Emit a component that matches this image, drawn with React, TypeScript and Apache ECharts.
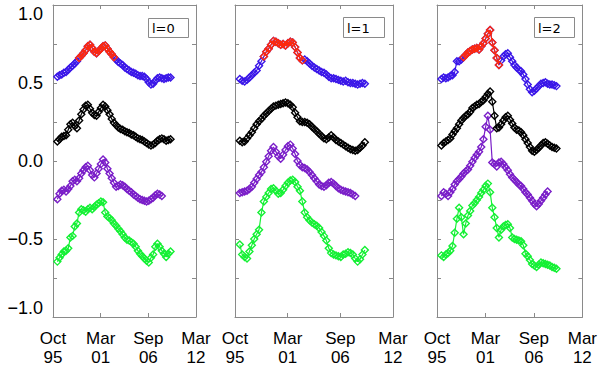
import React, { useEffect, useRef } from "react";
import * as echarts from "echarts";

// ---- data ----
const xTickLabels = ["Oct\n95", "Mar\n01", "Sep\n06", "Mar\n12"];
const panelLabels = ["l=0", "l=1", "l=2"];
const startYear = 1996.25; // first sample (decimal year)
const stepYear = 0.25;     // sampling step (years)
const axisStartYear = 1995.75; // Oct 1995
const redFrom = 1998.75;
const redTo = 2002.75;

// l = 0
const l0Top = [
  0.54, 0.55, 0.555, 0.565, 0.57, 0.585, 0.6, 0.61, 0.625, 0.64, 0.66, 0.675, 0.69, 0.71, 0.735,
  0.745, 0.725, 0.7, 0.69, 0.705, 0.72, 0.735, 0.74, 0.72, 0.7, 0.685, 0.665, 0.65, 0.635, 0.625,
  0.615, 0.6, 0.59, 0.58, 0.57, 0.565, 0.56, 0.55, 0.545, 0.545, 0.54, 0.525, 0.505, 0.49, 0.495,
  0.515, 0.53, 0.535, 0.53, 0.525, 0.53, 0.535, 0.535,
];
const l0Black = [
  0.125, 0.14, 0.155, 0.16, 0.165, 0.2, 0.235, 0.245, 0.225, 0.21, 0.26, 0.3, 0.33, 0.355, 0.36,
  0.335, 0.31, 0.295, 0.29, 0.315, 0.34, 0.36, 0.35, 0.325, 0.3, 0.27, 0.245, 0.23, 0.215, 0.205,
  0.2, 0.19, 0.185, 0.18, 0.17, 0.165, 0.155, 0.145, 0.14, 0.135, 0.125, 0.115, 0.105, 0.1, 0.105,
  0.115, 0.13, 0.14, 0.145, 0.14, 0.13, 0.135, 0.14,
];
const l0Purple = [
  -0.245, -0.21, -0.19, -0.185, -0.195, -0.18, -0.16, -0.13, -0.12, -0.13, -0.11, -0.08, -0.06,
  -0.04, -0.03, -0.06, -0.09, -0.105, -0.08, -0.05, -0.02, 0.01, -0.01, -0.05, -0.08, -0.11, -0.14,
  -0.165, -0.16, -0.15, -0.155, -0.165, -0.18, -0.19, -0.2, -0.215, -0.225, -0.235, -0.245, -0.25,
  -0.255, -0.26, -0.255, -0.245, -0.235, -0.22, -0.21, -0.215, -0.225,
];
const l0Green = [
  -0.645, -0.62, -0.6, -0.58, -0.575, -0.56, -0.49, -0.48, -0.42, -0.4, -0.33, -0.31, -0.315,
  -0.325, -0.31, -0.3, -0.31, -0.295, -0.28, -0.27, -0.26, -0.265, -0.33, -0.355, -0.365, -0.38,
  -0.4, -0.415, -0.435, -0.45, -0.47, -0.49, -0.505, -0.51, -0.52, -0.53, -0.55, -0.575, -0.595,
  -0.61, -0.625, -0.64, -0.65, -0.62, -0.6, -0.55, -0.53, -0.55, -0.575, -0.595, -0.615, -0.595, -0.58,
];

// l = 1
const l1Top = [
  0.525, 0.515, 0.51, 0.52, 0.535, 0.55, 0.565, 0.58, 0.61, 0.64, 0.67, 0.7, 0.72, 0.745, 0.77,
  0.765, 0.755, 0.745, 0.75, 0.74, 0.755, 0.765, 0.76, 0.73, 0.695, 0.66, 0.645, 0.65, 0.64, 0.625,
  0.61, 0.6, 0.59, 0.58, 0.57, 0.565, 0.555, 0.54, 0.53, 0.53, 0.525, 0.52, 0.515, 0.51, 0.515,
  0.505, 0.5, 0.5, 0.495, 0.49, 0.495, 0.5, 0.495,
];
const l1Black = [
  0.13, 0.12, 0.125, 0.145, 0.165, 0.185, 0.21, 0.235, 0.255, 0.27, 0.29, 0.305, 0.32, 0.335, 0.35,
  0.355, 0.36, 0.365, 0.37, 0.375, 0.37, 0.36, 0.345, 0.31, 0.28, 0.255, 0.25, 0.25, 0.245, 0.235,
  0.22, 0.205, 0.19, 0.175, 0.16, 0.145, 0.14, 0.15, 0.165, 0.15, 0.135, 0.125, 0.115, 0.105, 0.095,
  0.085, 0.075, 0.07, 0.065, 0.07, 0.085, 0.1, 0.12,
];
const l1Purple = [
  -0.205, -0.2, -0.195, -0.19, -0.18, -0.165, -0.14, -0.115, -0.09, -0.07, -0.04, -0.005, 0.03,
  0.065, 0.09, 0.06, 0.03, 0.015, 0.04, 0.07, 0.095, 0.105, 0.08, 0.045, 0.0, -0.025, -0.04, -0.045,
  -0.055, -0.07, -0.09, -0.11, -0.13, -0.15, -0.16, -0.165, -0.155, -0.14, -0.135, -0.145, -0.16,
  -0.175, -0.185, -0.19, -0.195, -0.2, -0.205, -0.215, -0.225,
];
const l1Green = [
  -0.535, -0.6, -0.615, -0.625, -0.58, -0.54, -0.5, -0.47, -0.44, -0.33, -0.26, -0.23, -0.205,
  -0.18, -0.175, -0.19, -0.21, -0.205, -0.185, -0.16, -0.14, -0.125, -0.12, -0.135, -0.165, -0.19,
  -0.26, -0.33, -0.36, -0.38, -0.395, -0.405, -0.415, -0.43, -0.455, -0.48, -0.51, -0.56, -0.59,
  -0.6, -0.605, -0.61, -0.615, -0.6, -0.595, -0.585, -0.59, -0.6, -0.625, -0.645, -0.63, -0.6, -0.57,
];

// l = 2
const l2Top = [
  0.525, 0.535, 0.53, 0.535, 0.545, 0.55, 0.57, 0.64, 0.64, 0.65, 0.665, 0.68, 0.695, 0.705, 0.715,
  0.72, 0.725, 0.715, 0.735, 0.755, 0.785, 0.815, 0.84, 0.76, 0.71, 0.66, 0.615, 0.645, 0.67, 0.685,
  0.69, 0.665, 0.64, 0.615, 0.6, 0.585, 0.575, 0.555, 0.525, 0.49, 0.46, 0.44, 0.45, 0.465, 0.48,
  0.495, 0.5, 0.505, 0.495, 0.49, 0.49, 0.485, 0.48,
];
const l2Black = [
  0.1, 0.115, 0.125, 0.135, 0.145, 0.17, 0.19, 0.21, 0.235, 0.26, 0.275, 0.29, 0.3, 0.315, 0.34,
  0.35, 0.36, 0.365, 0.38, 0.39, 0.41, 0.43, 0.445, 0.38, 0.29, 0.21, 0.215, 0.235, 0.26, 0.28,
  0.29, 0.265, 0.24, 0.215, 0.2, 0.195, 0.185, 0.165, 0.14, 0.115, 0.09, 0.065, 0.06, 0.07, 0.085,
  0.1, 0.115, 0.12, 0.11, 0.1, 0.09, 0.085, 0.08,
];
const l2Purple = [
  -0.225, -0.2, -0.21, -0.225, -0.2, -0.18, -0.15, -0.13, -0.115, -0.1, -0.08, -0.065, -0.055,
  -0.03, -0.005, 0.02, 0.04, 0.06, 0.09, 0.14, 0.22, 0.29, 0.2, -0.01, -0.02, -0.035, -0.01, -0.005,
  -0.02, -0.04, -0.06, -0.085, -0.105, -0.12, -0.135, -0.15, -0.16, -0.18, -0.2, -0.215, -0.235,
  -0.255, -0.275, -0.29, -0.275, -0.255, -0.235, -0.215, -0.195,
];
const l2Green = [
  -0.605, -0.615, -0.6, -0.59, -0.575, -0.545, -0.46, -0.37, -0.3, -0.36, -0.47, -0.4, -0.35, -0.32,
  -0.285, -0.27, -0.25, -0.23, -0.205, -0.185, -0.16, -0.145, -0.2, -0.3, -0.36, -0.43, -0.49, -0.44,
  -0.42, -0.41, -0.405, -0.43, -0.49, -0.5, -0.505, -0.51, -0.515, -0.54, -0.595, -0.61, -0.635,
  -0.66, -0.67, -0.68, -0.665, -0.65, -0.655, -0.66, -0.665, -0.67, -0.68, -0.685, -0.69,
];

const panels = [
  { top: l0Top, black: l0Black, purple: l0Purple, green: l0Green },
  { top: l1Top, black: l1Black, purple: l1Purple, green: l1Green },
  { top: l2Top, black: l2Black, purple: l2Purple, green: l2Green },
];

const COLORS = {
  blue: "#3a16e8",
  red: "#ff2a0c",
  black: "#000000",
  purple: "#7a1ec8",
  green: "#14f034",
};

const GRID_POS = [
  { left: 53, width: 143 },
  { left: 235, width: 158 },
  { left: 437, width: 146 },
];
const BOXES = [
  { x: 148, y: 18, w: 40, h: 19 },
  { x: 343, y: 17, w: 41, h: 20 },
  { x: 534, y: 17, w: 40, h: 20 },
];

const yearToDays = (y: number) => (y - axisStartYear) * 365.25;
const pairs = (vals: number[]) => vals.map((v, i) => [yearToDays(startYear + i * stepYear), v]);
const pairsInRange = (vals: number[], a: number, b: number) =>
  vals
    .map((v, i) => ({ y: startYear + i * stepYear, v }))
    .filter((p) => p.y >= a - 1e-6 && p.y <= b + 1e-6)
    .map((p) => [yearToDays(p.y), p.v]);

const AXIS_COLOR = "#8a8a8a";
const FONT = "'Liberation Sans', Arial, sans-serif";

export default function App() {
  const ref = useRef<HTMLDivElement>(null);
  useEffect(() => {
    if (!ref.current) return;
    const chart = echarts.init(ref.current, undefined, { renderer: "svg" });
    const grid: any[] = [];
    const xAxis: any[] = [];
    const yAxis: any[] = [];
    const series: any[] = [];
    const graphic: any[] = [];

    GRID_POS.forEach((g, p) => {
      grid.push({ left: g.left, width: g.width, top: 5, height: 315, containLabel: false });
      const xCommon = {
        type: "value",
        gridIndex: p,
        min: 0,
        max: 6000,
        interval: 2000,
        splitLine: { show: false },
        axisLine: { show: true, onZero: false, lineStyle: { color: AXIS_COLOR, width: 1 } },
        axisTick: { show: true, inside: true, length: 4, lineStyle: { color: AXIS_COLOR } },
      };
      xAxis.push({
        ...xCommon,
        position: "bottom",
        axisLabel: {
          show: true,
          margin: 12,
          color: "#000",
          fontSize: 17,
          lineHeight: 19,
          fontFamily: FONT,
          showMinLabel: true,
          showMaxLabel: true,
          formatter: (v: number) => xTickLabels[Math.round(v / 2000)] ?? "",
        },
      });
      xAxis.push({ ...xCommon, position: "top", axisLabel: { show: false } });

      const yCommon = {
        type: "value",
        gridIndex: p,
        min: -1,
        max: 1,
        interval: 0.5,
        splitLine: { show: false },
        axisLine: { show: true, onZero: false, lineStyle: { color: AXIS_COLOR, width: 1 } },
        axisTick: { show: true, inside: true, length: 4, lineStyle: { color: AXIS_COLOR } },
        minorTick: { show: true, splitNumber: 2, length: 4, lineStyle: { color: AXIS_COLOR } },
      };
      yAxis.push({
        ...yCommon,
        position: "left",
        axisLabel: {
          show: p === 0,
          margin: 10,
          color: "#000",
          fontSize: 18,
          fontFamily: FONT,
          showMinLabel: true,
          showMaxLabel: true,
          verticalAlignMaxLabel: "top",
          verticalAlignMinLabel: "bottom",
          formatter: (v: number) => v.toFixed(1).replace("-", "\u2212"),
        },
      });
      yAxis.push({ ...yCommon, position: "right", axisLabel: { show: false } });

      const d = panels[p];
      const mk = (data: any[], color: string, z: number) => ({
        type: "line",
        xAxisIndex: 2 * p,
        yAxisIndex: 2 * p,
        data,
        symbol: "diamond",
        symbolSize: 7,
        showAllSymbol: true,
        z,
        lineStyle: { color, width: 1.2 },
        itemStyle: { color: "rgba(0,0,0,0)", borderColor: color, borderWidth: 1.4 },
        emphasis: { disabled: true },
      });
      series.push(mk(pairs(d.green), COLORS.green, 2));
      series.push(mk(pairs(d.purple), COLORS.purple, 3));
      series.push(mk(pairs(d.black), COLORS.black, 4));
      series.push(mk(pairs(d.top), COLORS.blue, 5));
      series.push(mk(pairsInRange(d.top, redFrom, redTo), COLORS.red, 6));

      const b = BOXES[p];
      graphic.push({
        type: "rect",
        shape: { x: b.x + 0.5, y: b.y + 0.5, width: b.w, height: b.h },
        style: { fill: "#fff", stroke: AXIS_COLOR, lineWidth: 1 },
        z: 10,
      });
      graphic.push({
        type: "text",
        x: b.x + 4,
        y: b.y + b.h / 2 + 1,
        style: {
          text: panelLabels[p],
          fill: "#000",
          fontSize: 13,
          fontFamily: "'DejaVu Sans', sans-serif",
          verticalAlign: "middle",
          align: "left",
        },
        z: 11,
      });
    });

    chart.setOption({
      animation: false,
      backgroundColor: "#fff",
      grid,
      xAxis,
      yAxis,
      series,
      graphic,
    });
    return () => chart.dispose();
  }, []);
  return <div ref={ref} style={{ width: 600, height: 367, position: "absolute", left: 0, top: 0 }} />;
}
